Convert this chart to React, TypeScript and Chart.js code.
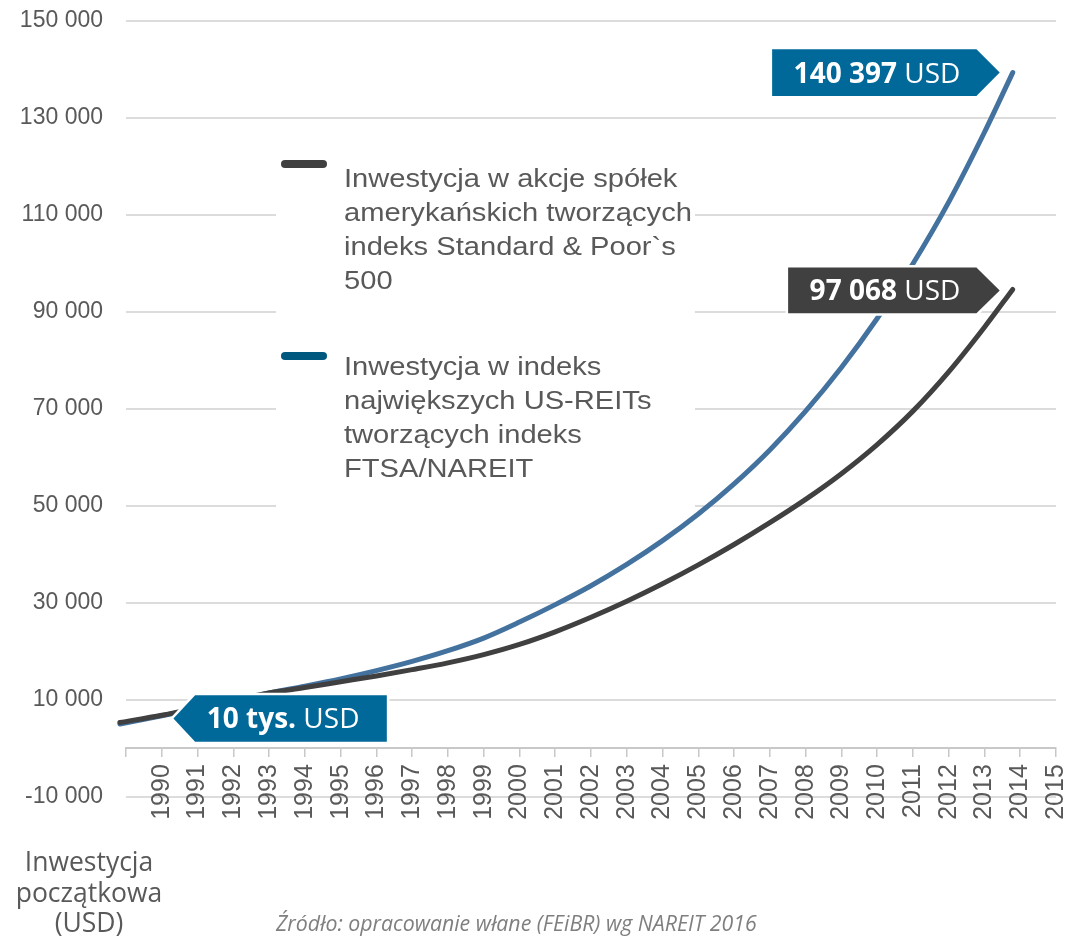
import React, { useEffect, useRef } from 'react';
import { Chart, registerables } from 'chart.js';

Chart.register(...registerables);

// ---- data ----
const axisYears = [1989, 1990, 1991, 1992, 1993, 1994, 1995, 1996, 1997, 1998, 1999, 2000, 2001, 2002, 2003, 2004, 2005, 2006, 2007, 2008, 2009, 2010, 2011, 2012, 2013, 2014, 2015];
const yearLabels = ['', '1990', '1991', '1992', '1993', '1994', '1995', '1996', '1997', '1998', '1999', '2000', '2001', '2002', '2003', '2004', '2005', '2006', '2007', '2008', '2009', '2010', '2011', '2012', '2013', '2014', '2015'];
const yTickValues = [-10000, 10000, 30000, 50000, 70000, 90000, 110000, 130000, 150000];

const seriesYears = [1988.83, 1990, 1991, 1992, 1993, 1994, 1995, 1996, 1997, 1998, 1999, 2000, 2001, 2002, 2003, 2004, 2005, 2006, 2007, 2008, 2009, 2010, 2011, 2012, 2013, 2013.79];
const sp500Values = [5300, 6800, 8300, 9900, 11400, 12500, 13700, 14900, 16200, 17600, 19300, 21400, 24000, 27000, 30300, 33900, 37800, 42000, 46500, 51300, 56600, 62600, 69500, 77600, 86800, 94600];
const reitValues = [5000, 6700, 8100, 9700, 11400, 12800, 14300, 16000, 17900, 20100, 22700, 26000, 29600, 33500, 37900, 42800, 48300, 54500, 61500, 69500, 78500, 88600, 99900, 112600, 127000, 139300];

const sp500Legend = ['Inwestycja w akcje spółek', 'amerykańskich tworzących', 'indeks Standard & Poor`s', '500'];
const reitLegend = ['Inwestycja w indeks', 'największych US-REITs', 'tworzących indeks', 'FTSA/NAREIT'];
const reitEndBold = '140 397';
const sp500EndBold = '97 068';
const startBold = '10 tys.';
const currencyText = ' USD';
const startLabelLines = ['Inwestycja', 'początkowa', '(USD)'];
const sourceText = 'Źródło: opracowanie włane (FEiBR) wg NAREIT 2016';

// ---- styles ----
const SP_COLOR = '#404040';
const REIT_COLOR = '#44729f';
const REIT_SWATCH = '#00587f';
const CALLOUT_BLUE = '#00699a';
const TEXT_GRAY = '#595959';
const SANS = "'Liberation Sans', Arial, sans-serif";
const OPEN = "'Open Sans', sans-serif";

const fmt = (v: number) => {
  const s = String(Math.abs(v)).replace(/\B(?=(\d{3})+(?!\d))/g, ' ');
  return v < 0 ? '-' + s : s;
};

function drawCallout(ctx: CanvasRenderingContext2D, tipX: number, tipY: number, rectW: number, depth: number, half: number, dir: 'left' | 'right', color: string, bold: string, regular: string, textInset: number) {
  let rectL: number, rectR: number;
  ctx.save();
  ctx.beginPath();
  if (dir === 'right') {
    rectR = tipX - depth;
    rectL = rectR - rectW;
    ctx.moveTo(rectL, tipY - half);
    ctx.lineTo(rectR, tipY - half);
    ctx.lineTo(tipX, tipY);
    ctx.lineTo(rectR, tipY + half);
    ctx.lineTo(rectL, tipY + half);
  } else {
    rectL = tipX + depth;
    rectR = rectL + rectW;
    ctx.moveTo(rectR, tipY - half);
    ctx.lineTo(rectL, tipY - half);
    ctx.lineTo(tipX, tipY);
    ctx.lineTo(rectL, tipY + half);
    ctx.lineTo(rectR, tipY + half);
  }
  ctx.closePath();
  ctx.lineJoin = 'miter';
  ctx.strokeStyle = '#ffffff';
  ctx.lineWidth = 5;
  ctx.stroke();
  ctx.fillStyle = color;
  ctx.fill();
  ctx.fillStyle = '#ffffff';
  ctx.textBaseline = 'alphabetic';
  ctx.textAlign = 'left';
  const tx = rectL + textInset;
  const ty = tipY + 10;
  ctx.font = `bold 28px ${OPEN}`;
  ctx.fillText(bold, tx, ty);
  const bw = ctx.measureText(bold).width;
  ctx.font = `28px ${OPEN}`;
  ctx.fillText(regular, tx + bw, ty);
  ctx.restore();
}

const overlayPlugin = {
  id: 'overlay',
  beforeDatasetsDraw(chart: any) {
    const ctx = chart.ctx as CanvasRenderingContext2D;
    ctx.save();
    ctx.fillStyle = '#ffffff';
    ctx.fillRect(276, 150, 419, 370);
    ctx.restore();
  },
  afterDatasetsDraw(chart: any) {
    const ctx = chart.ctx as CanvasRenderingContext2D;
    const xs = chart.scales.x;
    const ys = chart.scales.y;
    const n = seriesYears.length - 1;
    const endX = xs.getPixelForValue(seriesYears[n]);
    const reitEndY = ys.getPixelForValue(reitValues[n]);
    const spEndY = ys.getPixelForValue(sp500Values[n]);
    drawCallout(ctx, endX - 13, reitEndY, 204.3, 23.3, 23.3, 'right', CALLOUT_BLUE, reitEndBold, currencyText, 21.5);
    drawCallout(ctx, endX - 13, spEndY + 1, 188.3, 23.3, 22.8, 'right', SP_COLOR, sp500EndBold, currencyText, 21.5);
    const startX = xs.getPixelForValue(seriesYears[0]);
    const startY = ys.getPixelForValue(sp500Values[0]);
    drawCallout(ctx, startX + 53.5, startY - 4, 191.7, 21.7, 23.2, 'left', CALLOUT_BLUE, startBold, currencyText, 11.7);
  },
  afterDraw(chart: any) {
    const ctx = chart.ctx as CanvasRenderingContext2D;
    ctx.save();
    // legend swatches
    ctx.lineCap = 'round';
    ctx.lineWidth = 8;
    ctx.strokeStyle = SP_COLOR;
    ctx.beginPath();
    ctx.moveTo(285, 164);
    ctx.lineTo(323, 164);
    ctx.stroke();
    ctx.strokeStyle = REIT_SWATCH;
    ctx.beginPath();
    ctx.moveTo(285, 356);
    ctx.lineTo(323, 356);
    ctx.stroke();
    // legend text
    ctx.fillStyle = TEXT_GRAY;
    ctx.font = `26px ${SANS}`;
    ctx.textAlign = 'left';
    ctx.textBaseline = 'alphabetic';
    const drawStretched = (t: string, x: number, y: number) => {
      ctx.save();
      ctx.translate(x, y);
      ctx.scale(1.12, 1);
      ctx.fillText(t, 0, 0);
      ctx.restore();
    };
    sp500Legend.forEach((t, i) => drawStretched(t, 344, 187 + i * 34));
    reitLegend.forEach((t, i) => drawStretched(t, 344, 375 + i * 34));
    // start label
    ctx.font = `26.5px ${OPEN}`;
    ctx.textAlign = 'center';
    startLabelLines.forEach((t, i) => ctx.fillText(t, 89, 871 + i * 30.5));
    // source
    ctx.font = `italic 21.3px ${OPEN}`;
    ctx.textAlign = 'left';
    ctx.fillStyle = '#7f7f7f';
    ctx.fillText(sourceText, 276, 931);
    ctx.restore();
  },
};

export default function App() {
  const ref = useRef<HTMLCanvasElement | null>(null);
  useEffect(() => {
    if (!ref.current) return;
    const chart = new Chart(ref.current, {
      type: 'line',
      data: {
        datasets: [
          {
            label: 'S&P 500',
            data: seriesYears.map((x, i) => ({ x, y: sp500Values[i] })),
            borderColor: SP_COLOR,
            backgroundColor: SP_COLOR,
            borderWidth: 5,
            pointRadius: 0,
            cubicInterpolationMode: 'monotone',
            borderCapStyle: 'round',
            clip: false,
            order: 0,
          } as any,
          {
            label: 'US-REITs',
            data: seriesYears.map((x, i) => ({ x, y: reitValues[i] })),
            borderColor: REIT_COLOR,
            backgroundColor: REIT_COLOR,
            borderWidth: 5,
            pointRadius: 0,
            cubicInterpolationMode: 'monotone',
            borderCapStyle: 'round',
            clip: false,
            order: 1,
          } as any,
        ],
      },
      options: {
        responsive: false,
        animation: false,
        devicePixelRatio: 1,
        layout: { padding: { top: 20.7, right: 13, bottom: 140.3, left: 0 } },
        plugins: { legend: { display: false }, tooltip: { enabled: false } },
        scales: {
          x: {
            type: 'linear',
            position: { y: 0 } as any,
            min: axisYears[0],
            max: axisYears[axisYears.length - 1],
            afterBuildTicks: (s: any) => {
              s.ticks = axisYears.map((v) => ({ value: v }));
            },
            afterFit: (s: any) => {
              s.paddingLeft = 0;
              s.paddingRight = 0;
              s.paddingTop = 0;
              s.paddingBottom = 0;
            },
            ticks: {
              autoSkip: false,
              maxRotation: 90,
              minRotation: 90,
              padding: 8,
              color: TEXT_GRAY,
              font: { family: SANS, size: 25 },
              callback: (v: any) => {
                const i = axisYears.indexOf(Number(v));
                return i >= 0 ? yearLabels[i] : '';
              },
            },
            grid: { drawOnChartArea: false, drawTicks: true, tickLength: 8, color: '#c8c8c8', lineWidth: 1.5 },
            border: { display: true, color: '#c8c8c8', width: 2 },
          } as any,
          y: {
            min: -10000,
            max: 150000,
            afterBuildTicks: (s: any) => {
              s.ticks = yTickValues.map((v) => ({ value: v }));
            },
            afterFit: (s: any) => {
              s.width = 126;
              s.paddingLeft = 0;
              s.paddingRight = 0;
              s.paddingTop = 0;
              s.paddingBottom = 0;
            },
            ticks: {
              padding: 23,
              color: TEXT_GRAY,
              font: { family: SANS, size: 23 },
              callback: (v: any) => fmt(Number(v)),
            },
            grid: { color: '#dcdcdc', lineWidth: 2, drawTicks: false, z: -1 },
            border: { display: false },
          } as any,
        },
      },
      plugins: [overlayPlugin],
    });
    return () => chart.destroy();
  }, []);

  return (
    <div style={{ position: 'fixed', left: 0, top: 0, width: 1069, height: 937, background: '#ffffff' }}>
      <canvas ref={ref} width={1069} height={937} style={{ width: 1069, height: 937, display: 'block' }} />
    </div>
  );
}
